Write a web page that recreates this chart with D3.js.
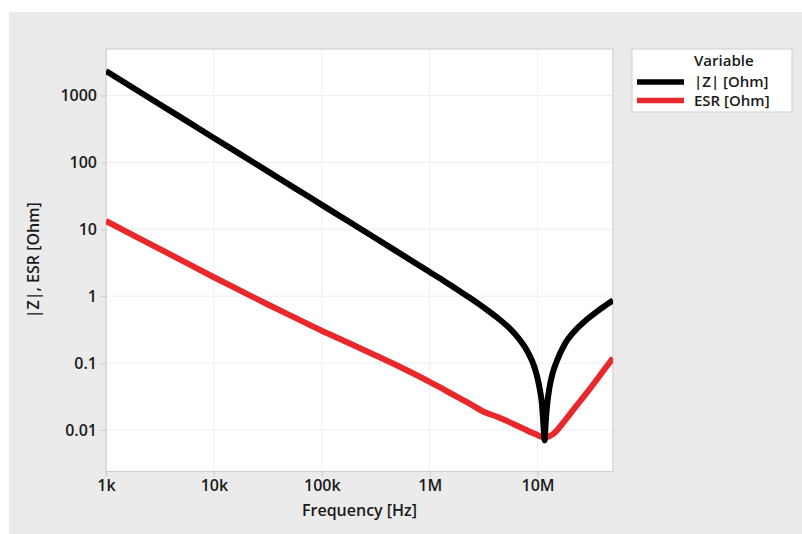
<!DOCTYPE html>
<html>
<head>
<meta charset="utf-8">
<script src="https://cdn.jsdelivr.net/npm/d3@7"></script>
<style>
  html, body { margin: 0; padding: 0; background: #ffffff; }
  svg { display: block; }
  text { font-family: "Open Sans", "Noto Sans", sans-serif; font-weight: 600; fill: #1a1a1a; }
</style>
</head>
<body>
<svg id="chart" width="802" height="534"></svg>
<script>
// ---- Data ----
const frequency = [1000, 1778, 3162, 5623, 10000, 17783, 31623, 56234, 100000, 177828, 316228, 562341,
  1000000, 1333521, 1778279, 2371374, 3162278, 4216965, 5623413, 6309573, 7079458, 7943282, 8912509,
  9549926, 10000000, 10471285, 10964782, 11350000, 11610000, 11890000, 12300000, 12880000, 13800000,
  15140000, 17780000, 22390000, 28180000, 35480000, 41690000, 50000000];
const impedance = [2320, 1305, 734, 413, 232, 130.5, 73.4, 41.3, 23.2, 13.05, 7.34, 4.11,
  2.30, 1.72, 1.27, 0.94, 0.68, 0.48, 0.32, 0.262, 0.206, 0.156, 0.107,
  0.078, 0.059, 0.041, 0.025, 0.0115, 0.007, 0.013, 0.025, 0.043, 0.071,
  0.109, 0.19, 0.31, 0.44, 0.59, 0.71, 0.87];
const esr = [13.3, 8.2, 5.06, 3.12, 1.92, 1.2, 0.753, 0.479, 0.305, 0.2, 0.13, 0.084,
  0.0525, 0.0407, 0.0316, 0.0245, 0.0188, 0.0158, 0.0129, 0.0118, 0.0108, 0.0099, 0.0091,
  0.0087, 0.0084, 0.0081, 0.0079, 0.0078, 0.0078, 0.0078, 0.0079, 0.0081, 0.0086,
  0.0099, 0.0136, 0.022, 0.035, 0.057, 0.081, 0.119];
const xTicks = [1e3, 1e4, 1e5, 1e6, 1e7];
const xTickLabels = ["1k", "10k", "100k", "1M", "10M"];
const yTicks = [0.01, 0.1, 1, 10, 100, 1000];
const yTickLabels = ["0.01", "0.1", "1", "10", "100", "1000"];
const seriesNames = ["|Z| [Ohm]", "ESR [Ohm]"];
const seriesColors = ["#000000", "#e8282b"];

// ---- Layout ----
const svg = d3.select("#chart");
const plot = { left: 106, top: 49, right: 613, bottom: 471.5 };
const FONT = "'Open Sans', 'Noto Sans', sans-serif";

svg.append("rect").attr("x", 9).attr("y", 12).attr("width", 793).attr("height", 522)
  .attr("fill", "#ebebeb");

const x = d3.scaleLog().domain([1e3, 5e7]).range([plot.left, plot.right]);
const y = d3.scaleLog().domain([0.0024, 4950]).range([plot.bottom, plot.top]);

svg.append("rect").attr("x", plot.left).attr("y", plot.top)
  .attr("width", plot.right - plot.left).attr("height", plot.bottom - plot.top)
  .attr("fill", "#ffffff");

// grid
const g = svg.append("g");
g.selectAll(".vg").data(xTicks).join("line")
  .attr("x1", d => x(d)).attr("x2", d => x(d)).attr("y1", plot.top).attr("y2", plot.bottom)
  .attr("stroke", "#eeeeee").attr("stroke-width", 1);
g.selectAll(".hg").data(yTicks).join("line")
  .attr("y1", d => y(d)).attr("y2", d => y(d)).attr("x1", plot.left).attr("x2", plot.right)
  .attr("stroke", "#eeeeee").attr("stroke-width", 1);

// axes
const xAxis = d3.axisBottom(x).tickValues(xTicks).tickFormat((d, i) => xTickLabels[i])
  .tickSize(5).tickPadding(3);
const gx = svg.append("g").attr("transform", `translate(0,${plot.bottom})`).call(xAxis);
gx.select(".domain").remove();
gx.selectAll(".tick line").attr("stroke", "#c8c8c8");
gx.selectAll(".tick text").attr("font-size", 16).attr("fill", "#1a1a1a")
  .attr("font-family", FONT).attr("font-weight", 600);

const yAxis = d3.axisLeft(y).tickValues(yTicks).tickFormat((d, i) => yTickLabels[i])
  .tickSize(5).tickPadding(4);
const gy = svg.append("g").attr("transform", `translate(${plot.left},0)`).call(yAxis);
gy.select(".domain").remove();
gy.selectAll(".tick line").attr("stroke", "#c8c8c8");
gy.selectAll(".tick text").attr("font-size", 16).attr("fill", "#1a1a1a")
  .attr("font-family", FONT).attr("font-weight", 600);

// plot border
svg.append("rect").attr("x", plot.left).attr("y", plot.top)
  .attr("width", plot.right - plot.left).attr("height", plot.bottom - plot.top)
  .attr("fill", "none").attr("stroke", "#cfcfcf").attr("stroke-width", 1.2);

// lines
svg.append("clipPath").attr("id", "clip").append("rect")
  .attr("x", plot.left).attr("y", plot.top - 10)
  .attr("width", plot.right - plot.left).attr("height", plot.bottom - plot.top + 20);

const line = d3.line().x(d => x(d[0])).y(d => y(d[1])).curve(d3.curveMonotoneX);
const series = [impedance, esr];
const lines = svg.append("g").attr("clip-path", "url(#clip)");
[1, 0].forEach(k => {
  lines.append("path")
    .datum(frequency.map((f, i) => [f, series[k][i]]))
    .attr("d", line)
    .attr("fill", "none")
    .attr("stroke", seriesColors[k])
    .attr("stroke-width", 6)
    .attr("stroke-linejoin", "round");
});

// axis titles
svg.append("text").attr("x", (plot.left + plot.right) / 2).attr("y", 516)
  .attr("text-anchor", "middle").attr("font-size", 16).text("Frequency [Hz]");
svg.append("text").attr("transform", `translate(39,${(plot.top + plot.bottom) / 2}) rotate(-90)`)
  .attr("text-anchor", "middle").attr("font-size", 16).text("|Z|, ESR [Ohm]");

// legend
const lg = svg.append("g");
lg.append("rect").attr("x", 632).attr("y", 49).attr("width", 160).attr("height", 63)
  .attr("fill", "#ffffff").attr("stroke", "#cfcfcf").attr("stroke-width", 1);
lg.append("text").attr("x", 694).attr("y", 66).attr("font-size", 15).text("Variable");
seriesNames.forEach((name, i) => {
  const cy = 82 + i * 18.5;
  lg.append("line").attr("x1", 637).attr("x2", 684).attr("y1", cy).attr("y2", cy)
    .attr("stroke", seriesColors[i]).attr("stroke-width", 5.5);
  lg.append("text").attr("x", 694).attr("y", cy + 5).attr("font-size", 15).text(name);
});
</script>
</body>
</html>
